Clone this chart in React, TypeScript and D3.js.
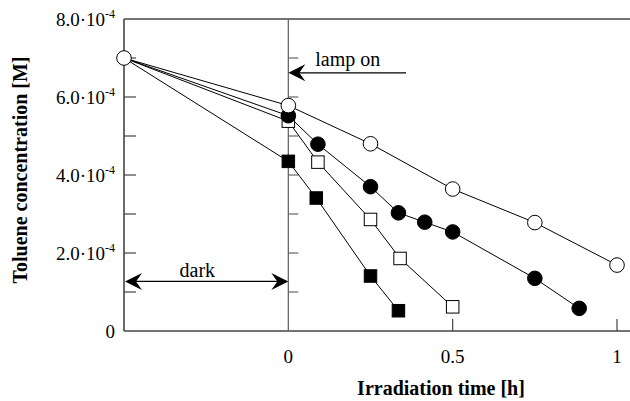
import React from "react";
import * as d3 from "d3";

// Data (concentration in units of 1e-4 M, time in h)
const openCircleT = [-0.5, 0, 0.25, 0.5, 0.75, 1.0];
const openCircleC = [7.0, 5.78, 4.8, 3.64, 2.78, 1.69];
const filledCircleT = [-0.5, 0, 0.09, 0.25, 0.335, 0.415, 0.5, 0.75, 0.885];
const filledCircleC = [7.0, 5.52, 4.79, 3.7, 3.03, 2.79, 2.54, 1.35, 0.58];
const openSquareT = [-0.5, 0, 0.09, 0.25, 0.34, 0.5];
const openSquareC = [7.0, 5.38, 4.33, 2.86, 1.86, 0.62];
const filledSquareT = [-0.5, 0, 0.085, 0.25, 0.335];
const filledSquareC = [7.0, 4.35, 3.41, 1.41, 0.52];

const yTickValues = [0, 2, 4, 6, 8];
const yTickMantissa = ["0", "2.0·10", "4.0·10", "6.0·10", "8.0·10"];
const yTickExp = ["", "-4", "-4", "-4", "-4"];
const yMinorTicks = [1, 2, 3, 4, 5, 6, 7];
const xTickValues = [0, 0.5, 1];
const xTickLabels = ["0", "0.5", "1"];

const W = 630;
const H = 401;
const FONT = "'Liberation Serif', 'Times New Roman', Times, serif";

const x = d3.scaleLinear().domain([-0.5, 1]).range([124, 617]);
const y = d3.scaleLinear().domain([0, 8]).range([331, 19]);
const xRightEdge = 630;

type Pt = [number, number];
const zip = (t: number[], c: number[]): Pt[] => t.map((v, i) => [v, c[i]]);

const line = d3
  .line<Pt>()
  .x((d) => x(d[0]))
  .y((d) => y(d[1]));

const series = [
  { pts: zip(filledSquareT, filledSquareC), shape: "square", fill: "#000" },
  { pts: zip(openSquareT, openSquareC), shape: "square", fill: "#fff" },
  { pts: zip(filledCircleT, filledCircleC), shape: "circle", fill: "#000" },
  { pts: zip(openCircleT, openCircleC), shape: "circle", fill: "#fff" },
];

function Marker({ p, shape, fill }: { p: Pt; shape: string; fill: string }) {
  const cx = x(p[0]);
  const cy = y(p[1]);
  if (shape === "circle") {
    return <circle cx={cx} cy={cy} r={7.3} fill={fill} stroke="#000" strokeWidth={1} />;
  }
  const s = 12.5;
  return <rect x={cx - s / 2} y={cy - s / 2} width={s} height={s} fill={fill} stroke="#000" strokeWidth={1} />;
}

// arrowhead pointing left with tip at (tx, ty)
function arrowLeft(tx: number, ty: number) {
  return `M${tx},${ty} L${tx + 17},${ty - 8.5} L${tx + 11},${ty} L${tx + 17},${ty + 8.5} Z`;
}
function arrowRight(tx: number, ty: number) {
  return `M${tx},${ty} L${tx - 17},${ty - 8.5} L${tx - 11},${ty} L${tx - 17},${ty + 8.5} Z`;
}

// annotation anchors in data units
const lampArrowY = 6.62;
const lampArrowEndT = 0.358;
const lampTextT = 0.082;
const lampTextC = 6.79;
const darkArrowY = 1.27;
const darkTextT = -0.277;
const darkTextC = 1.38;

export default function App() {
  const x0 = x(-0.5);
  const xz = x(0);
  return (
    <svg
      width={W}
      height={H}
      style={{ position: "absolute", left: 0, top: 0, background: "#fff" }}
      fontFamily={FONT}
    >
      {/* frame */}
      <line x1={x0} y1={y(8)} x2={xRightEdge} y2={y(8)} stroke="#444" strokeWidth={1.6} />
      <line x1={x0} y1={y(0)} x2={xRightEdge} y2={y(0)} stroke="#444" strokeWidth={1.6} />
      <line x1={x0} y1={y(8)} x2={x0} y2={y(0)} stroke="#444" strokeWidth={1.6} />
      <line x1={xz} y1={y(8)} x2={xz} y2={y(0)} stroke="#666" strokeWidth={1.3} />

      {/* y minor ticks on left axis and zero line */}
      {yMinorTicks.map((v) => (
        <g key={"yt" + v}>
          <line x1={x0} x2={x0 + 12} y1={y(v)} y2={y(v)} stroke="#444" strokeWidth={1.2} />
          <line x1={xz} x2={xz + 10} y1={y(v)} y2={y(v)} stroke="#666" strokeWidth={1.2} />
        </g>
      ))}
      {/* x ticks */}
      {xTickValues.slice(1).map((v) => (
        <line key={"xt" + v} x1={x(v)} x2={x(v)} y1={y(0)} y2={y(0) - 12} stroke="#444" strokeWidth={1.2} />
      ))}

      {/* y tick labels */}
      {yTickValues.map((v, i) => (
        <text key={"yl" + v} x={115} y={y(v) + 7} textAnchor="end" fontSize={19} fill="#000">
          {yTickMantissa[i]}
          {yTickExp[i] && (
            <tspan fontSize={12} dy={-8}>
              {yTickExp[i]}
            </tspan>
          )}
        </text>
      ))}
      {/* x tick labels */}
      {xTickValues.map((v, i) => (
        <text key={"xl" + v} x={x(v)} y={363} textAnchor="middle" fontSize={19} fill="#000">
          {xTickLabels[i]}
        </text>
      ))}

      {/* axis titles */}
      <text x={441} y={395} textAnchor="middle" fontSize={20} fontWeight="bold" fill="#000">
        Irradiation time [h]
      </text>
      <text
        transform={`translate(27,170) rotate(-90)`}
        textAnchor="middle"
        fontSize={20}
        fontWeight="bold"
        fill="#000"
      >
        Toluene concentration [M]
      </text>

      {/* annotations */}
      <line x1={xz + 8} x2={x(lampArrowEndT)} y1={y(lampArrowY)} y2={y(lampArrowY)} stroke="#000" strokeWidth={1.2} />
      <path d={arrowLeft(xz, y(lampArrowY))} fill="#000" />
      <text x={x(lampTextT)} y={y(lampTextC)} fontSize={20} fill="#000">
        lamp on
      </text>
      <line x1={x0 + 8} x2={xz - 8} y1={y(darkArrowY)} y2={y(darkArrowY)} stroke="#000" strokeWidth={1.2} />
      <path d={arrowLeft(x0 + 1, y(darkArrowY))} fill="#000" />
      <path d={arrowRight(xz, y(darkArrowY))} fill="#000" />
      <text x={x(darkTextT)} y={y(darkTextC)} textAnchor="middle" fontSize={20} fill="#000">
        dark
      </text>

      {/* lines */}
      {series.map((s, i) => (
        <path key={"ln" + i} d={line(s.pts) || ""} fill="none" stroke="#000" strokeWidth={1} />
      ))}
      {/* markers (skip shared start point, drawn last) */}
      {series.map((s, i) =>
        s.pts.slice(1).map((p, j) => <Marker key={`m${i}-${j}`} p={p} shape={s.shape} fill={s.fill} />)
      )}
      <Marker p={series[3].pts[0]} shape="circle" fill="#fff" />
    </svg>
  );
}
